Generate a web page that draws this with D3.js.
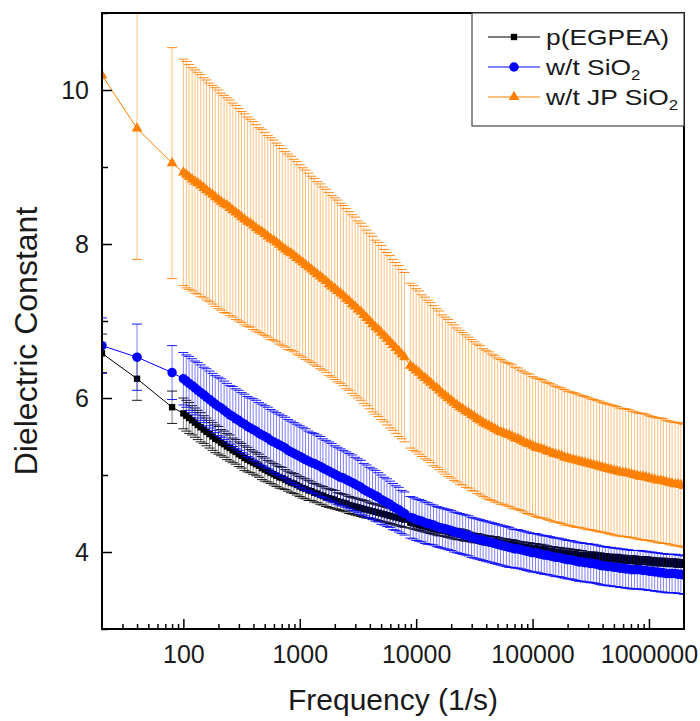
<!DOCTYPE html>
<html lang="en">
<head>
<meta charset="UTF-8">
<title>Dielectric Constant vs Frequency</title>
<script src="https://d3js.org/d3.v7.min.js"></script>
<style>
  body { margin: 0; background: #fff; }
  svg text { font-family: "Liberation Sans", Arial, sans-serif; fill: #1a1a1a; }
</style>
</head>
<body>
<div id="chart"></div>
<script>
// frequency sweep (1/s), shared by the three samples
const freqs = [
  20, 40, 80,
  // first sweep
  100, 106, 112, 119, 126, 133, 141, 150, 158, 168,
  178, 188, 200, 211, 224, 237, 251, 266, 282, 299,
  316, 335, 355, 376, 398, 422, 447, 473, 501, 531,
  562, 596, 631, 668, 708, 750, 794, 841, 891, 944,
  1000, 1060, 1120, 1190, 1260, 1330, 1410, 1500, 1580, 1680,
  1780, 1880, 2000, 2110, 2240, 2370, 2510, 2660, 2820, 2990,
  3160, 3350, 3550, 3760, 3980, 4220, 4470, 4730, 5010, 5310,
  5620, 5960, 6310, 6680, 7080, 7500, 7940,
  // second sweep
  8910, 9440, 10000, 10600, 11200, 11900, 12600, 13300, 14100, 15000,
  15800, 16800, 17800, 18800, 20000, 21100, 22400, 23700, 25100, 26600,
  28200, 29900, 31600, 33500, 35500, 37600, 39800, 42200, 44700, 47300,
  50100, 53100, 56200, 59600, 63100, 66800, 70800, 75000, 79400, 84100,
  89100, 94400, 100000, 106000, 112000, 119000, 126000, 133000, 141000, 150000,
  158000, 168000, 178000, 188000, 200000, 211000, 224000, 237000, 251000, 266000,
  282000, 299000, 316000, 335000, 355000, 376000, 398000, 422000, 447000, 473000,
  501000, 531000, 562000, 596000, 631000, 668000, 708000, 750000, 794000, 841000,
  891000, 944000, 1000000, 1060000, 1120000, 1190000, 1260000, 1330000, 1410000, 1500000,
  1580000, 1680000, 1780000, 1880000, 2000000
];

// p(EGPEA)
const egpeaMean = [
  6.58, 6.25, 5.88,
  5.80, 5.77, 5.74, 5.71, 5.68, 5.65, 5.62, 5.59, 5.56, 5.53,
  5.50, 5.47, 5.45, 5.42, 5.40, 5.37, 5.35, 5.32, 5.30, 5.27,
  5.25, 5.22, 5.20, 5.18, 5.16, 5.14, 5.12, 5.09, 5.07, 5.05,
  5.03, 5.01, 4.99, 4.97, 4.96, 4.94, 4.92, 4.90, 4.89, 4.87,
  4.85, 4.83, 4.82, 4.80, 4.79, 4.77, 4.76, 4.74, 4.73, 4.71,
  4.70, 4.69, 4.68, 4.66, 4.65, 4.64, 4.63, 4.61, 4.60, 4.59,
  4.58, 4.57, 4.56, 4.55, 4.54, 4.53, 4.52, 4.51, 4.50, 4.49,
  4.48, 4.47, 4.46, 4.45, 4.44, 4.43, 4.42,
  4.38, 4.37, 4.36, 4.35, 4.34, 4.33, 4.32, 4.31, 4.30, 4.29,
  4.28, 4.28, 4.27, 4.26, 4.25, 4.24, 4.23, 4.23, 4.22, 4.21,
  4.20, 4.19, 4.18, 4.18, 4.17, 4.16, 4.15, 4.15, 4.14, 4.14,
  4.13, 4.12, 4.11, 4.11, 4.10, 4.10, 4.09, 4.08, 4.07, 4.07,
  4.06, 4.06, 4.05, 4.05, 4.04, 4.04, 4.03, 4.02, 4.01, 4.01,
  4.00, 4.00, 3.99, 3.99, 3.98, 3.98, 3.97, 3.97, 3.96, 3.96,
  3.95, 3.95, 3.95, 3.95, 3.94, 3.94, 3.93, 3.93, 3.92, 3.92,
  3.92, 3.92, 3.91, 3.91, 3.90, 3.90, 3.90, 3.90, 3.89, 3.89,
  3.89, 3.89, 3.88, 3.88, 3.87, 3.87, 3.87, 3.87, 3.86, 3.86,
  3.86, 3.86, 3.85, 3.85, 3.85
];
const egpeaErr = [
  0.25, 0.28, 0.21,
  0.20, 0.20, 0.20, 0.19, 0.19, 0.19, 0.19, 0.18, 0.18, 0.18,
  0.18, 0.18, 0.18, 0.17, 0.17, 0.17, 0.17, 0.16, 0.16, 0.16,
  0.16, 0.16, 0.16, 0.15, 0.15, 0.15, 0.15, 0.15, 0.15, 0.14,
  0.14, 0.14, 0.14, 0.14, 0.14, 0.13, 0.13, 0.13, 0.13, 0.13,
  0.13, 0.13, 0.13, 0.13, 0.12, 0.12, 0.12, 0.12, 0.12, 0.12,
  0.12, 0.12, 0.12, 0.11, 0.11, 0.11, 0.11, 0.11, 0.11, 0.11,
  0.11, 0.11, 0.11, 0.11, 0.10, 0.10, 0.10, 0.10, 0.10, 0.10,
  0.10, 0.10, 0.10, 0.10, 0.10, 0.10, 0.10,
  0.07, 0.07, 0.07, 0.07, 0.07, 0.07, 0.07, 0.07, 0.07, 0.07,
  0.07, 0.07, 0.07, 0.07, 0.07, 0.07, 0.07, 0.07, 0.07, 0.07,
  0.06, 0.06, 0.06, 0.06, 0.06, 0.06, 0.06, 0.06, 0.06, 0.06,
  0.06, 0.06, 0.06, 0.06, 0.06, 0.06, 0.06, 0.06, 0.06, 0.06,
  0.06, 0.06, 0.06, 0.06, 0.06, 0.06, 0.06, 0.06, 0.06, 0.06,
  0.06, 0.06, 0.06, 0.06, 0.06, 0.06, 0.06, 0.06, 0.06, 0.06,
  0.05, 0.05, 0.05, 0.05, 0.05, 0.05, 0.05, 0.05, 0.05, 0.05,
  0.05, 0.05, 0.05, 0.05, 0.05, 0.05, 0.05, 0.05, 0.05, 0.05,
  0.05, 0.05, 0.05, 0.05, 0.05, 0.05, 0.05, 0.05, 0.05, 0.05,
  0.05, 0.05, 0.05, 0.05, 0.05
];

// w/t SiO2
const sio2Mean = [
  6.68, 6.53, 6.33,
  6.25, 6.22, 6.19, 6.16, 6.13, 6.10, 6.07, 6.04, 6.01, 5.98,
  5.95, 5.92, 5.89, 5.87, 5.84, 5.81, 5.78, 5.76, 5.73, 5.71,
  5.68, 5.66, 5.63, 5.61, 5.59, 5.57, 5.54, 5.52, 5.50, 5.48,
  5.45, 5.43, 5.41, 5.39, 5.37, 5.35, 5.32, 5.30, 5.28, 5.26,
  5.24, 5.22, 5.20, 5.18, 5.16, 5.15, 5.13, 5.11, 5.09, 5.07,
  5.05, 5.03, 5.01, 4.99, 4.97, 4.96, 4.94, 4.92, 4.90, 4.88,
  4.86, 4.84, 4.81, 4.79, 4.77, 4.75, 4.73, 4.71, 4.68, 4.66,
  4.64, 4.62, 4.59, 4.57, 4.55, 4.52, 4.50,
  4.45, 4.44, 4.42, 4.41, 4.40, 4.38, 4.37, 4.36, 4.35, 4.33,
  4.32, 4.31, 4.30, 4.29, 4.28, 4.26, 4.25, 4.24, 4.23, 4.22,
  4.21, 4.19, 4.18, 4.17, 4.16, 4.15, 4.14, 4.13, 4.12, 4.11,
  4.10, 4.09, 4.08, 4.07, 4.06, 4.05, 4.04, 4.04, 4.03, 4.02,
  4.01, 4.00, 3.99, 3.99, 3.98, 3.97, 3.96, 3.96, 3.95, 3.94,
  3.93, 3.93, 3.92, 3.91, 3.90, 3.90, 3.89, 3.88, 3.87, 3.87,
  3.86, 3.86, 3.85, 3.85, 3.84, 3.83, 3.82, 3.82, 3.81, 3.81,
  3.80, 3.80, 3.79, 3.79, 3.78, 3.78, 3.77, 3.77, 3.77, 3.77,
  3.76, 3.76, 3.75, 3.75, 3.74, 3.74, 3.73, 3.73, 3.72, 3.72,
  3.72, 3.72, 3.71, 3.71, 3.70
];
const sio2Err = [
  0.36, 0.43, 0.35,
  0.34, 0.34, 0.35, 0.35, 0.35, 0.36, 0.36, 0.36, 0.37, 0.37,
  0.37, 0.37, 0.38, 0.38, 0.38, 0.38, 0.38, 0.39, 0.39, 0.39,
  0.39, 0.39, 0.39, 0.39, 0.40, 0.40, 0.40, 0.40, 0.40, 0.40,
  0.40, 0.40, 0.40, 0.40, 0.40, 0.40, 0.40, 0.40, 0.40, 0.40,
  0.40, 0.40, 0.40, 0.39, 0.39, 0.39, 0.39, 0.39, 0.38, 0.38,
  0.38, 0.38, 0.37, 0.37, 0.37, 0.36, 0.36, 0.36, 0.36, 0.35,
  0.35, 0.35, 0.34, 0.34, 0.33, 0.33, 0.33, 0.32, 0.32, 0.31,
  0.31, 0.30, 0.30, 0.29, 0.29, 0.28, 0.28,
  0.27, 0.27, 0.27, 0.27, 0.27, 0.27, 0.27, 0.26, 0.26, 0.26,
  0.26, 0.26, 0.26, 0.26, 0.26, 0.26, 0.26, 0.26, 0.26, 0.26,
  0.26, 0.26, 0.26, 0.26, 0.26, 0.26, 0.26, 0.26, 0.26, 0.26,
  0.26, 0.26, 0.26, 0.26, 0.26, 0.25, 0.25, 0.25, 0.25, 0.25,
  0.25, 0.25, 0.25, 0.25, 0.25, 0.25, 0.25, 0.25, 0.25, 0.25,
  0.25, 0.25, 0.25, 0.25, 0.25, 0.25, 0.25, 0.25, 0.25, 0.25,
  0.25, 0.25, 0.25, 0.25, 0.25, 0.25, 0.25, 0.25, 0.25, 0.25,
  0.25, 0.25, 0.25, 0.25, 0.25, 0.25, 0.25, 0.25, 0.25, 0.25,
  0.25, 0.25, 0.25, 0.25, 0.25, 0.25, 0.25, 0.25, 0.25, 0.25,
  0.25, 0.25, 0.25, 0.25, 0.25
];

// w/t JP SiO2
const jpMean = [
  10.19, 9.50, 9.05,
  8.93, 8.90, 8.87, 8.84, 8.81, 8.79, 8.76, 8.73, 8.70, 8.67,
  8.64, 8.61, 8.58, 8.55, 8.52, 8.50, 8.47, 8.44, 8.41, 8.38,
  8.35, 8.32, 8.29, 8.27, 8.24, 8.21, 8.18, 8.16, 8.13, 8.10,
  8.07, 8.05, 8.02, 7.99, 7.96, 7.93, 7.90, 7.88, 7.85, 7.82,
  7.79, 7.76, 7.73, 7.70, 7.67, 7.64, 7.61, 7.58, 7.55, 7.52,
  7.48, 7.45, 7.42, 7.39, 7.36, 7.33, 7.29, 7.26, 7.22, 7.19,
  7.15, 7.12, 7.08, 7.04, 7.00, 6.96, 6.92, 6.89, 6.85, 6.81,
  6.77, 6.73, 6.69, 6.65, 6.61, 6.57, 6.53,
  6.42, 6.39, 6.36, 6.33, 6.29, 6.26, 6.23, 6.20, 6.16, 6.13,
  6.10, 6.06, 6.03, 6.00, 5.97, 5.94, 5.91, 5.88, 5.86, 5.83,
  5.81, 5.78, 5.76, 5.73, 5.71, 5.68, 5.66, 5.64, 5.62, 5.60,
  5.58, 5.56, 5.55, 5.53, 5.52, 5.50, 5.48, 5.47, 5.45, 5.43,
  5.41, 5.40, 5.38, 5.36, 5.35, 5.34, 5.33, 5.31, 5.30, 5.28,
  5.27, 5.26, 5.25, 5.23, 5.22, 5.21, 5.20, 5.19, 5.18, 5.17,
  5.16, 5.15, 5.14, 5.13, 5.12, 5.11, 5.10, 5.09, 5.08, 5.07,
  5.06, 5.05, 5.04, 5.03, 5.03, 5.02, 5.01, 5.00, 4.99, 4.98,
  4.98, 4.97, 4.96, 4.95, 4.94, 4.93, 4.93, 4.92, 4.91, 4.90,
  4.89, 4.88, 4.88, 4.87, 4.86
];
const jpErr = [
  2.2, 1.7, 1.5,
  1.47, 1.47, 1.46, 1.45, 1.45, 1.44, 1.44, 1.43, 1.43, 1.42,
  1.42, 1.42, 1.42, 1.41, 1.41, 1.40, 1.40, 1.39, 1.39, 1.38,
  1.37, 1.37, 1.36, 1.35, 1.35, 1.34, 1.33, 1.33, 1.32, 1.31,
  1.31, 1.30, 1.29, 1.29, 1.28, 1.27, 1.27, 1.26, 1.25, 1.25,
  1.24, 1.23, 1.23, 1.22, 1.21, 1.21, 1.20, 1.20, 1.19, 1.19,
  1.19, 1.18, 1.18, 1.18, 1.17, 1.17, 1.17, 1.16, 1.16, 1.16,
  1.15, 1.15, 1.15, 1.14, 1.14, 1.14, 1.13, 1.13, 1.13, 1.12,
  1.12, 1.12, 1.11, 1.11, 1.11, 1.10, 1.10,
  1.07, 1.07, 1.06, 1.06, 1.05, 1.05, 1.04, 1.04, 1.04, 1.03,
  1.03, 1.02, 1.02, 1.02, 1.01, 1.01, 1.00, 1.00, 0.99, 0.99,
  0.98, 0.98, 0.97, 0.97, 0.97, 0.96, 0.96, 0.96, 0.95, 0.95,
  0.94, 0.94, 0.93, 0.93, 0.93, 0.93, 0.92, 0.92, 0.91, 0.91,
  0.91, 0.91, 0.90, 0.90, 0.90, 0.90, 0.89, 0.89, 0.89, 0.89,
  0.88, 0.88, 0.88, 0.88, 0.87, 0.87, 0.87, 0.87, 0.86, 0.86,
  0.86, 0.86, 0.85, 0.85, 0.85, 0.85, 0.84, 0.84, 0.84, 0.84,
  0.84, 0.84, 0.83, 0.83, 0.83, 0.83, 0.82, 0.82, 0.82, 0.82,
  0.82, 0.82, 0.81, 0.81, 0.81, 0.81, 0.81, 0.81, 0.80, 0.80,
  0.80, 0.80, 0.80, 0.80, 0.80
];

const xMajor = [100, 1000, 10000, 100000, 1000000];
const yMajor = [4, 6, 8, 10];
const yMinor = [3, 5, 7, 9, 11];

const series = [
  { label: 'p(EGPEA)', sub: '', mean: egpeaMean, err: egpeaErr, color: '#000000', symbol: d3.symbolSquare, size: 40, barOpacity: 0.5 },
  { label: 'w/t SiO', sub: '2', mean: sio2Mean, err: sio2Err, color: '#0000ff', symbol: d3.symbolCircle, size: 70, barOpacity: 0.5 },
  { label: 'w/t JP SiO', sub: '2', mean: jpMean, err: jpErr, color: '#ff8000', symbol: d3.symbolTriangle, size: 50, barOpacity: 0.5 }
];

const width = 700, height = 721;
const plot = { left: 102, right: 684, top: 13, bottom: 629 };

const x = d3.scaleLog().domain([20, 2000000]).range([plot.left, plot.right]);
const y = d3.scaleLinear().domain([3, 11]).range([plot.bottom, plot.top]);

// minor x ticks: 2..9 of each decade inside the domain
const xMinor = [];
[10, 100, 1000, 10000, 100000, 1000000].forEach(dec => {
  for (let k = 2; k <= 9; k++) {
    const v = dec * k;
    if (v > 20 && v < 2000000 && !xMajor.includes(v)) xMinor.push(v);
  }
});

const svg = d3.select('#chart').append('svg')
  .attr('width', width)
  .attr('height', height);

svg.append('defs').append('clipPath').attr('id', 'clip')
  .append('rect')
  .attr('x', plot.left).attr('y', plot.top)
  .attr('width', plot.right - plot.left)
  .attr('height', plot.bottom - plot.top);

const area = svg.append('g').attr('clip-path', 'url(#clip)');

const capW = 5;
series.forEach(s => {
  const pts = freqs.map((f, i) => ({ f: f, m: s.mean[i], e: s.err[i] }));
  const g = area.append('g');

  // error bars
  const bars = g.append('g')
    .attr('stroke', s.color)
    .attr('stroke-width', 1);
  bars.selectAll('.bar').data(pts).enter().append('line')
    .attr('x1', d => x(d.f)).attr('x2', d => x(d.f))
    .attr('y1', d => y(d.m - d.e)).attr('y2', d => y(d.m + d.e))
    .attr('stroke-opacity', s.barOpacity);
  bars.selectAll('.capTop').data(pts).enter().append('line')
    .attr('x1', d => x(d.f) - capW).attr('x2', d => x(d.f) + capW)
    .attr('y1', d => y(d.m + d.e)).attr('y2', d => y(d.m + d.e))
    .attr('stroke-opacity', 0.9);
  bars.selectAll('.capBot').data(pts).enter().append('line')
    .attr('x1', d => x(d.f) - capW).attr('x2', d => x(d.f) + capW)
    .attr('y1', d => y(d.m - d.e)).attr('y2', d => y(d.m - d.e))
    .attr('stroke-opacity', 0.9);

  // connecting line
  g.append('path')
    .datum(pts)
    .attr('fill', 'none')
    .attr('stroke', s.color)
    .attr('stroke-width', 1)
    .attr('d', d3.line().x(d => x(d.f)).y(d => y(d.m)));

  // markers
  g.selectAll('.mk').data(pts).enter().append('path')
    .attr('d', d3.symbol().type(s.symbol).size(s.size))
    .attr('transform', d => `translate(${x(d.f)},${y(d.m)})`)
    .attr('fill', s.color);
});

// axes (ticks point inward)
const axisFont = '25px';
const xAxis = svg.append('g')
  .attr('transform', `translate(0,${plot.bottom})`)
  .call(d3.axisBottom(x).tickValues(xMajor).tickSize(-10).tickPadding(16).tickFormat(d3.format('d')));
xAxis.select('.domain').remove();
xAxis.selectAll('text').style('font-size', axisFont).attr('fill', '#1a1a1a');
xAxis.selectAll('line').attr('stroke-width', 1.5);

const xAxisMinor = svg.append('g')
  .attr('transform', `translate(0,${plot.bottom})`)
  .call(d3.axisBottom(x).tickValues(xMinor).tickSize(-5).tickFormat(''));
xAxisMinor.select('.domain').remove();
xAxisMinor.selectAll('line').attr('stroke-width', 1.5);

const yAxis = svg.append('g')
  .attr('transform', `translate(${plot.left},0)`)
  .call(d3.axisLeft(y).tickValues(yMajor).tickSize(-10).tickPadding(13).tickFormat(d3.format('d')));
yAxis.select('.domain').remove();
yAxis.selectAll('text').style('font-size', axisFont).attr('fill', '#1a1a1a');
yAxis.selectAll('line').attr('stroke-width', 1.5);

const yAxisMinor = svg.append('g')
  .attr('transform', `translate(${plot.left},0)`)
  .call(d3.axisLeft(y).tickValues(yMinor).tickSize(-6).tickFormat(''));
yAxisMinor.select('.domain').remove();
yAxisMinor.selectAll('line').attr('stroke-width', 1.5);

// frame
svg.append('rect')
  .attr('x', plot.left).attr('y', plot.top)
  .attr('width', plot.right - plot.left)
  .attr('height', plot.bottom - plot.top)
  .attr('fill', 'none')
  .attr('stroke', '#000')
  .attr('stroke-width', 2);

// axis titles
svg.append('text')
  .attr('x', (plot.left + plot.right) / 2)
  .attr('y', 710)
  .attr('text-anchor', 'middle')
  .style('font-size', '30px')
  .text('Frequency (1/s)');

svg.append('text')
  .attr('transform', 'rotate(-90)')
  .attr('x', -341)
  .attr('y', 37)
  .attr('text-anchor', 'middle')
  .style('font-size', '32px')
  .text('Dielectric Constant');

// legend
const legend = svg.append('g');
legend.append('rect')
  .attr('x', 472).attr('y', plot.top)
  .attr('width', plot.right - 472)
  .attr('height', 126 - plot.top)
  .attr('fill', '#fff')
  .attr('stroke', '#444')
  .attr('stroke-width', 1.2);

series.forEach((s, i) => {
  const ly = 37 + i * 30;
  legend.append('line')
    .attr('x1', 488).attr('x2', 540)
    .attr('y1', ly).attr('y2', ly)
    .attr('stroke', s.color).attr('stroke-width', 1);
  legend.append('path')
    .attr('d', d3.symbol().type(s.symbol).size(s.size))
    .attr('transform', `translate(514,${ly})`)
    .attr('fill', s.color);
  // legend text in the original is drawn a bit wider than normal
  const t = legend.append('text')
    .attr('transform', `translate(546,${ly + 8}) scale(1.2,1)`)
    .style('font-size', '22px')
    .text(s.label);
  if (s.sub) {
    t.append('tspan')
      .attr('baseline-shift', '-30%')
      .style('font-size', '14px')
      .text(s.sub);
  }
});
</script>
</body>
</html>
